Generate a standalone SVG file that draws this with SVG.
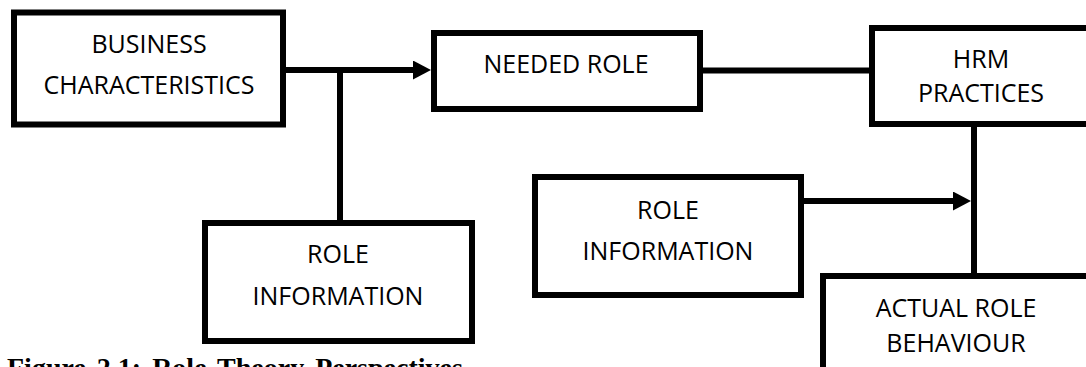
<svg xmlns="http://www.w3.org/2000/svg" width="1086" height="367" viewBox="0 0 1086 367">
  <style>
    .box { fill: #ffffff; stroke: #000000; stroke-width: 6; }
    .lbl { font-family: "Open Sans", "Liberation Sans", sans-serif; font-size: 25px; fill: #000000; text-anchor: middle; }
    .conn { stroke: #000000; stroke-width: 6; fill: none; }
    .cap { font-family: "Liberation Serif", "Times New Roman", serif; font-size: 28px; font-weight: bold; fill: #000000; word-spacing: 4px; }
  </style>
  <defs>
    <marker id="arrow" markerUnits="userSpaceOnUse" markerWidth="18" markerHeight="19" refX="7" refY="9.5" orient="auto">
      <path d="M0,0 L18,9.5 L0,19 z" fill="#000000"/>
    </marker>
  </defs>
  <rect width="1086" height="367" fill="#ffffff"/>

  <g id="connectors">
    <line class="conn" x1="286" y1="70" x2="420" y2="70" marker-end="url(#arrow)"/>
    <line class="conn" x1="340" y1="70" x2="340" y2="221"/>
    <line class="conn" x1="702" y1="70.5" x2="870" y2="70.5"/>
    <line class="conn" x1="974" y1="126" x2="974" y2="274"/>
    <line class="conn" x1="803" y1="201" x2="960" y2="201" marker-end="url(#arrow)"/>
  </g>

  <g id="business-characteristics">
    <rect class="box" x="14" y="12.5" width="269" height="112"/>
    <text class="lbl" x="149" y="53">BUSINESS</text>
    <text class="lbl" x="149" y="94">CHARACTERISTICS</text>
  </g>

  <g id="needed-role">
    <rect class="box" x="434" y="33" width="266" height="76"/>
    <text class="lbl" x="566" y="73">NEEDED ROLE</text>
  </g>

  <g id="hrm-practices">
    <rect class="box" x="872" y="28" width="230" height="96"/>
    <text class="lbl" x="981" y="68">HRM</text>
    <text class="lbl" x="981" y="102">PRACTICES</text>
  </g>

  <g id="role-information-left">
    <rect class="box" x="205" y="223" width="267" height="118"/>
    <text class="lbl" x="338" y="263">ROLE</text>
    <text class="lbl" x="338" y="305">INFORMATION</text>
  </g>

  <g id="role-information-right">
    <rect class="box" x="535" y="177" width="266" height="118"/>
    <text class="lbl" x="668" y="219">ROLE</text>
    <text class="lbl" x="668" y="260">INFORMATION</text>
  </g>

  <g id="actual-role-behaviour">
    <rect class="box" x="823" y="276" width="280" height="120"/>
    <text class="lbl" x="956" y="317">ACTUAL ROLE</text>
    <text class="lbl" x="956" y="352">BEHAVIOUR</text>
  </g>

  <g id="caption">
    <text class="cap" x="7" y="376.5">Figure 2.1: Role Theory Perspectives</text>
  </g>
</svg>
